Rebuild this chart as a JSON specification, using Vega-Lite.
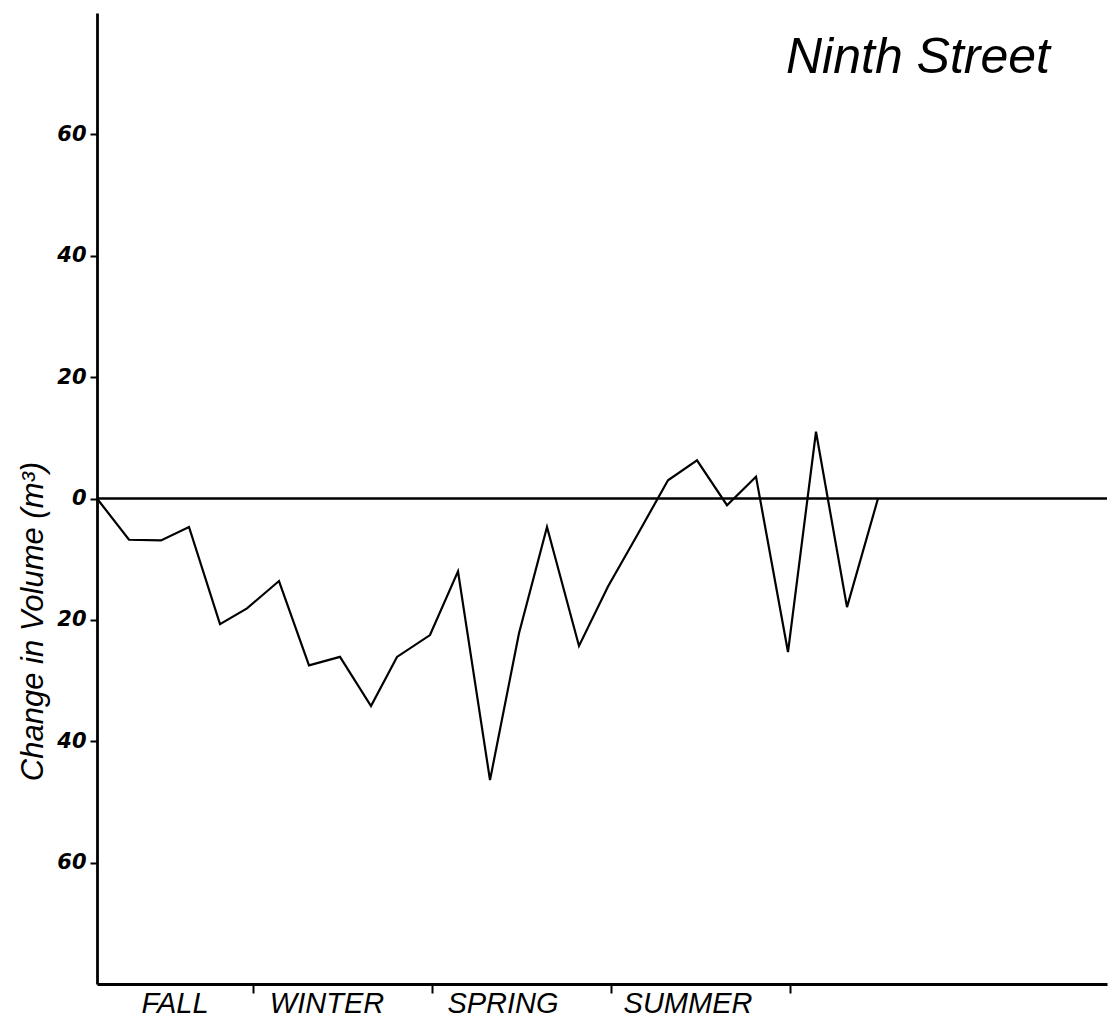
{
  "$schema": "https://vega.github.io/schema/vega-lite/v6.json",
  "autosize": "none",
  "width": 1010,
  "height": 971,
  "padding": {"left": 97, "top": 13, "right": 2, "bottom": 36},
  "background": "white",
  "config": {"view": {"stroke": null}},
  "title": {
    "text": "Ninth Street",
    "anchor": "end",
    "frame": "group",
    "font": "Liberation Sans",
    "fontStyle": "italic",
    "fontWeight": "normal",
    "fontSize": 50,
    "color": "black",
    "baseline": "alphabetic",
    "offset": 0,
    "dx": -57,
    "dy": 110
  },
  "layer": [
    {
      "data": {"values": [{"zero": 0}]},
      "mark": {"type": "rule", "color": "black", "strokeWidth": 2.4},
      "encoding": {"y": {"field": "zero", "type": "quantitative", "scale": {"domain": [-80, 80], "nice": false, "zero": false}}}
    },
    {
      "data": {"values": [
        {"day": 0, "change": 0},
        {"day": 16, "change": -6.8},
        {"day": 32, "change": -6.9},
        {"day": 46, "change": -4.7},
        {"day": 61.5, "change": -20.7},
        {"day": 75, "change": -18.1},
        {"day": 91, "change": -13.6},
        {"day": 106, "change": -27.5},
        {"day": 121.5, "change": -26.1},
        {"day": 137, "change": -34.2},
        {"day": 150, "change": -26.1},
        {"day": 166.5, "change": -22.5},
        {"day": 180.5, "change": -12.0},
        {"day": 196.5, "change": -46.4},
        {"day": 211, "change": -22.2},
        {"day": 225, "change": -4.7},
        {"day": 241, "change": -24.3},
        {"day": 255.5, "change": -14.5},
        {"day": 270.5, "change": -5.8},
        {"day": 285.5, "change": 3.0},
        {"day": 300, "change": 6.3},
        {"day": 315, "change": -1.1},
        {"day": 329.5, "change": 3.6},
        {"day": 345.5, "change": -25.3},
        {"day": 359.5, "change": 11.0},
        {"day": 375, "change": -17.9},
        {"day": 390.5, "change": 0}
      ]},
      "mark": {"type": "line", "color": "black", "strokeWidth": 2.2, "strokeJoin": "miter"},
      "encoding": {
        "x": {
          "field": "day", "type": "quantitative",
          "scale": {"domain": [0, 505], "nice": false, "zero": false},
          "axis": {
            "values": [78, 167.5, 257, 346.5],
            "labels": false,
            "title": null,
            "grid": false,
            "domainColor": "black",
            "domainWidth": 2.8,
            "tickColor": "black",
            "tickWidth": 2,
            "tickSize": 9
          }
        },
        "y": {
          "field": "change", "type": "quantitative",
          "scale": {"domain": [-80, 80], "nice": false, "zero": false},
          "axis": {
            "values": [-60, -40, -20, 0, 20, 40, 60],
            "labelExpr": "abs(datum.value)",
            "grid": false,
            "domainColor": "black",
            "domainWidth": 2.8,
            "tickColor": "black",
            "tickWidth": 2,
            "tickSize": 7,
            "labelPadding": 4,
            "labelFont": "DejaVu Sans",
            "labelFontStyle": "italic",
            "labelFontWeight": "bold",
            "labelFontSize": 21,
            "labelColor": "black",
            "title": "Change in Volume (m³)",
            "titleFont": "Liberation Sans",
            "titleFontStyle": "italic",
            "titleFontWeight": "normal",
            "titleFontSize": 31,
            "titleColor": "black",
            "titleAngle": 270,
            "titleAlign": "center",
            "titleBaseline": "middle",
            "titleX": -64,
            "titleY": 608
          }
        }
      }
    },
    {
      "data": {"values": [
        {"season": "FALL", "day": 39},
        {"season": "WINTER", "day": 115},
        {"season": "SPRING", "day": 203},
        {"season": "SUMMER", "day": 295.5}
      ]},
      "mark": {"type": "text", "font": "Liberation Sans", "fontStyle": "italic", "fontSize": 29, "color": "black", "align": "center", "baseline": "alphabetic", "dy": 29},
      "encoding": {
        "x": {"field": "day", "type": "quantitative"},
        "y": {"datum": -80},
        "text": {"field": "season"}
      }
    }
  ]
}
